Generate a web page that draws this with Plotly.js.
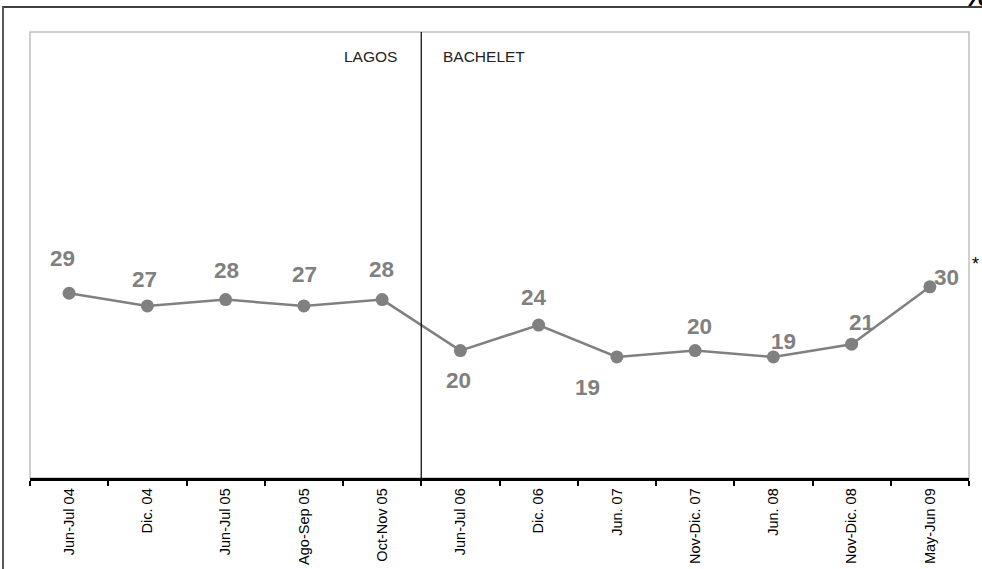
<!DOCTYPE html>
<html>
<head>
<meta charset="utf-8">
<script src="https://cdn.plot.ly/plotly-3.0.1.min.js"></script>
<style>
  html, body { margin: 0; padding: 0; background: #ffffff; }
  #wrap { position: relative; width: 982px; height: 569px; overflow: hidden; }
  #frame { position: absolute; left: 2px; top: 6px; right: -10px; bottom: -10px;
           border-top: 2px solid #404040; border-left: 2px solid #5a5a5a; }
  #chart { position: absolute; left: 0; top: 0; width: 982px; height: 569px; }
</style>
</head>
<body>
<div id="wrap">
  <div id="frame"></div>
  <div id="chart"></div>
</div>
<script>
// ---- data ----
const categories = ["Jun-Jul 04", "Dic. 04", "Jun-Jul 05", "Ago-Sep 05", "Oct-Nov 05",
                    "Jun-Jul 06", "Dic. 06", "Jun. 07", "Nov-Dic. 07", "Jun. 08",
                    "Nov-Dic. 08", "May-Jun 09"];
const values = [29, 27, 28, 27, 28, 20, 24, 19, 20, 19, 21, 30];
const periodLabels = ["LAGOS", "BACHELET"];
const periodBoundaryIndex = 4.5;   // between "Oct-Nov 05" and "Jun-Jul 06"

// ---- styles (label offsets in px, relative to each point) ----
const labelShiftX = [-7, -3, 1, 1, -1, -2, -5, -29, 4, 10, 10, 17];
const labelShiftY = [35, 26, 29, 31, 30, -30, 28, -31, 24, 15, 22, 9];

const grey = "#808080";
const fontFam = "Liberation Sans, Arial, sans-serif";

const trace = {
  type: "scatter",
  mode: "lines+markers",
  x: categories,
  y: values,
  line: { color: grey, width: 2.5 },
  marker: { color: grey, size: 13 },
  hoverinfo: "skip",
  cliponaxis: false
};

const annotations = values.map((v, i) => ({
  x: categories[i], y: v, xref: "x", yref: "y",
  text: String(v), showarrow: false,
  xanchor: "center", yanchor: "middle",
  xshift: labelShiftX[i], yshift: labelShiftY[i],
  font: { family: fontFam, size: 22.5, color: grey, weight: "bold" }
}));

annotations.push({
  x: periodBoundaryIndex, y: 0.945, xref: "x", yref: "paper",
  text: periodLabels[0], showarrow: false, xanchor: "right", yanchor: "middle",
  xshift: -22, font: { family: fontFam, size: 15.5, color: "#222222" }
});
annotations.push({
  x: periodBoundaryIndex, y: 0.945, xref: "x", yref: "paper",
  text: periodLabels[1], showarrow: false, xanchor: "left", yanchor: "middle",
  xshift: 20, font: { family: fontFam, size: 15.5, color: "#222222" }
});
annotations.push({
  x: 1.0064, y: 0.48, xref: "paper", yref: "paper",
  text: "*", showarrow: false, xanchor: "center", yanchor: "middle",
  font: { family: fontFam, size: 18, color: "#000000" }
});
annotations.push({
  x: 0.9915, y: 1.040, xref: "paper", yref: "paper",
  text: "%", showarrow: false, xanchor: "left", yanchor: "bottom",
  font: { family: fontFam, size: 30, color: "#000000", weight: "bold" }
});

const layout = {
  width: 982, height: 569,
  margin: { l: 30, r: 13, t: 32, b: 91, pad: 0 },
  paper_bgcolor: "rgba(0,0,0,0)",
  plot_bgcolor: "rgba(0,0,0,0)",
  showlegend: false,
  xaxis: {
    type: "category",
    range: [-0.5, categories.length - 0.5],
    showgrid: false, zeroline: false,
    showline: true, linecolor: "#000000", linewidth: 2.5,
    ticks: "outside", tickson: "boundaries", ticklen: 5, tickwidth: 2, tickcolor: "#000000",
    tickangle: -90,
    ticklabelstandoff: 2,
    tickfont: { family: fontFam, size: 14.5, color: "#000000" },
    automargin: false,
    fixedrange: true
  },
  yaxis: {
    range: [0, 70],
    showgrid: false, zeroline: false, showticklabels: false, ticks: "",
    showline: false, automargin: false, fixedrange: true
  },
  shapes: [
    { type: "rect", xref: "paper", yref: "paper", x0: 0, x1: 1, y0: 0, y1: 1,
      line: { color: "#c0c0c0", width: 1.5 }, layer: "below" },
    { type: "line", xref: "x", yref: "paper", x0: periodBoundaryIndex, x1: periodBoundaryIndex,
      y0: 0, y1: 1, line: { color: "#000000", width: 1.2 } }
  ],
  annotations: annotations
};

Plotly.newPlot("chart", [trace], layout, { staticPlot: true, displayModeBar: false });
</script>
</body>
</html>
